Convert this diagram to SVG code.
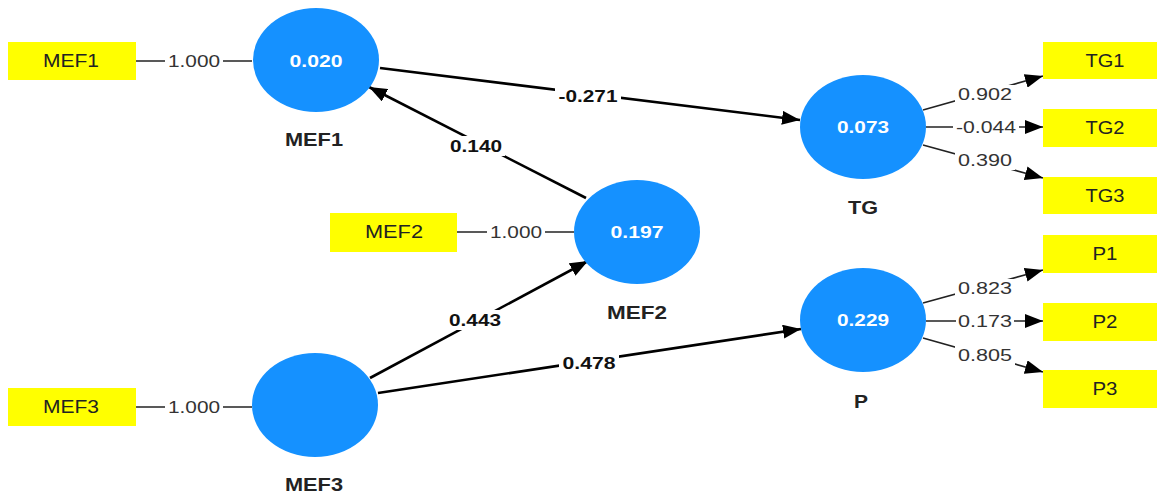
<svg xmlns="http://www.w3.org/2000/svg" width="1160" height="496" viewBox="0 0 1160 496">
<style>
text{font-family:"Liberation Sans",Arial,sans-serif;text-anchor:middle;dominant-baseline:central}
.box{fill:#ffff00}
.bt{font-size:18px;fill:#222}
.lv{fill:#1591ff}
.vt{font-size:17px;font-weight:bold;fill:#fff}
.nm{font-size:18px;font-weight:bold;fill:#222}
.ln{stroke:#222;stroke-width:1.6;fill:none}
.pl{stroke:#000;stroke-width:2.6;fill:none}
.cl{font-size:17px;font-weight:bold;fill:#111}
.ol{font-size:17px;fill:#333}
.bg{fill:#fff}
</style>
<defs>
<marker id="ahl" markerWidth="18" markerHeight="14" refX="18" refY="7" orient="auto" markerUnits="userSpaceOnUse" viewBox="0 0 18 14">
<path d="M0,0 L18,7 L0,14 z" fill="#000"/>
</marker>
</defs>
<rect width="1160" height="496" fill="#fff"/>
<g id="connectors">
<line class="ln" x1="136" y1="61" x2="252" y2="61"/>
<rect class="bg" x="165" y="52" width="58" height="18"/>
<text class="ol" x="194" y="61" textLength="52" lengthAdjust="spacingAndGlyphs">1.000</text>
<line class="ln" x1="457" y1="232" x2="574" y2="232"/>
<rect class="bg" x="487" y="223" width="58" height="18"/>
<text class="ol" x="516" y="232" textLength="52" lengthAdjust="spacingAndGlyphs">1.000</text>
<line class="ln" x1="136" y1="407" x2="252" y2="407"/>
<rect class="bg" x="165" y="398" width="58" height="18"/>
<text class="ol" x="194" y="407" textLength="52" lengthAdjust="spacingAndGlyphs">1.000</text>

<line class="pl" x1="380" y1="68" x2="800" y2="120" marker-end="url(#ahl)"/>
<rect class="bg" x="555" y="86" width="66" height="20"/>
<text class="cl" x="588" y="96" textLength="59" lengthAdjust="spacingAndGlyphs">-0.271</text>
<line class="pl" x1="586" y1="198" x2="369" y2="87" marker-end="url(#ahl)"/>
<rect class="bg" x="447" y="136" width="58" height="20"/>
<text class="cl" x="476" y="146" textLength="52" lengthAdjust="spacingAndGlyphs">0.140</text>
<line class="pl" x1="370" y1="378" x2="588" y2="261" marker-end="url(#ahl)"/>
<rect class="bg" x="446" y="310" width="58" height="20"/>
<text class="cl" x="475" y="320" textLength="52" lengthAdjust="spacingAndGlyphs">0.443</text>
<line class="pl" x1="378" y1="393" x2="801" y2="329" marker-end="url(#ahl)"/>
<rect class="bg" x="559" y="353" width="60" height="20"/>
<text class="cl" x="589" y="363" textLength="53" lengthAdjust="spacingAndGlyphs">0.478</text>

<line class="ln" x1="923" y1="110" x2="1043" y2="76" marker-end="url(#ahl)"/>
<rect class="bg" x="955" y="85" width="60" height="19"/>
<text class="ol" x="985" y="94" textLength="54" lengthAdjust="spacingAndGlyphs">0.902</text>
<line class="ln" x1="926" y1="127" x2="1043" y2="127" marker-end="url(#ahl)"/>
<rect class="bg" x="953" y="118" width="66" height="19"/>
<text class="ol" x="986" y="127" textLength="60" lengthAdjust="spacingAndGlyphs">-0.044</text>
<line class="ln" x1="923" y1="145" x2="1043" y2="178" marker-end="url(#ahl)"/>
<rect class="bg" x="955" y="151" width="60" height="19"/>
<text class="ol" x="985" y="160" textLength="54" lengthAdjust="spacingAndGlyphs">0.390</text>
<line class="ln" x1="923" y1="303" x2="1043" y2="270" marker-end="url(#ahl)"/>
<rect class="bg" x="955" y="279" width="60" height="19"/>
<text class="ol" x="985" y="288" textLength="54" lengthAdjust="spacingAndGlyphs">0.823</text>
<line class="ln" x1="926" y1="321" x2="1043" y2="321" marker-end="url(#ahl)"/>
<rect class="bg" x="956" y="312" width="58" height="19"/>
<text class="ol" x="985" y="321" textLength="54" lengthAdjust="spacingAndGlyphs">0.173</text>
<line class="ln" x1="923" y1="338" x2="1043" y2="372" marker-end="url(#ahl)"/>
<rect class="bg" x="955" y="346" width="60" height="19"/>
<text class="ol" x="985" y="355" textLength="54" lengthAdjust="spacingAndGlyphs">0.805</text>
</g>
<g id="box-MEF1"><rect class="box" x="8" y="42" width="128" height="38"/><text class="bt" x="71" y="61" textLength="56" lengthAdjust="spacingAndGlyphs">MEF1</text></g>
<g id="box-MEF2"><rect class="box" x="330" y="213" width="127" height="39"/><text class="bt" x="394" y="232" textLength="58" lengthAdjust="spacingAndGlyphs">MEF2</text></g>
<g id="box-MEF3"><rect class="box" x="8" y="388" width="128" height="38"/><text class="bt" x="71" y="407" textLength="56" lengthAdjust="spacingAndGlyphs">MEF3</text></g>
<g id="box-TG1"><rect class="box" x="1043" y="42" width="114" height="37"/><text class="bt" x="1105" y="61" textLength="39" lengthAdjust="spacingAndGlyphs">TG1</text></g>
<g id="box-TG2"><rect class="box" x="1043" y="109" width="114" height="38"/><text class="bt" x="1105" y="128" textLength="39" lengthAdjust="spacingAndGlyphs">TG2</text></g>
<g id="box-TG3"><rect class="box" x="1043" y="177" width="114" height="37"/><text class="bt" x="1105" y="196" textLength="39" lengthAdjust="spacingAndGlyphs">TG3</text></g>
<g id="box-P1"><rect class="box" x="1043" y="235" width="114" height="38"/><text class="bt" x="1105" y="254" textLength="25" lengthAdjust="spacingAndGlyphs">P1</text></g>
<g id="box-P2"><rect class="box" x="1043" y="303" width="114" height="38"/><text class="bt" x="1105" y="322" textLength="25" lengthAdjust="spacingAndGlyphs">P2</text></g>
<g id="box-P3"><rect class="box" x="1043" y="370" width="114" height="38"/><text class="bt" x="1105" y="389" textLength="25" lengthAdjust="spacingAndGlyphs">P3</text></g>
<g id="lv-MEF1"><ellipse class="lv" cx="316" cy="60" rx="63" ry="52"/><text class="vt" x="316" y="61" textLength="53" lengthAdjust="spacingAndGlyphs">0.020</text><text class="nm" x="314" y="140" textLength="58" lengthAdjust="spacingAndGlyphs">MEF1</text></g>
<g id="lv-MEF2"><ellipse class="lv" cx="637" cy="232" rx="63" ry="52"/><text class="vt" x="637" y="232" textLength="53" lengthAdjust="spacingAndGlyphs">0.197</text><text class="nm" x="637" y="313" textLength="60" lengthAdjust="spacingAndGlyphs">MEF2</text></g>
<g id="lv-MEF3"><ellipse class="lv" cx="315" cy="405" rx="63" ry="52"/><text class="nm" x="314" y="485" textLength="58" lengthAdjust="spacingAndGlyphs">MEF3</text></g>
<g id="lv-TG"><ellipse class="lv" cx="863" cy="127" rx="63" ry="52"/><text class="vt" x="863" y="127" textLength="52" lengthAdjust="spacingAndGlyphs">0.073</text><text class="nm" x="863" y="208" textLength="30" lengthAdjust="spacingAndGlyphs">TG</text></g>
<g id="lv-P"><ellipse class="lv" cx="863" cy="320" rx="63" ry="52"/><text class="vt" x="863" y="320" textLength="52" lengthAdjust="spacingAndGlyphs">0.229</text><text class="nm" x="861" y="402" textLength="14" lengthAdjust="spacingAndGlyphs">P</text></g>
</svg>
